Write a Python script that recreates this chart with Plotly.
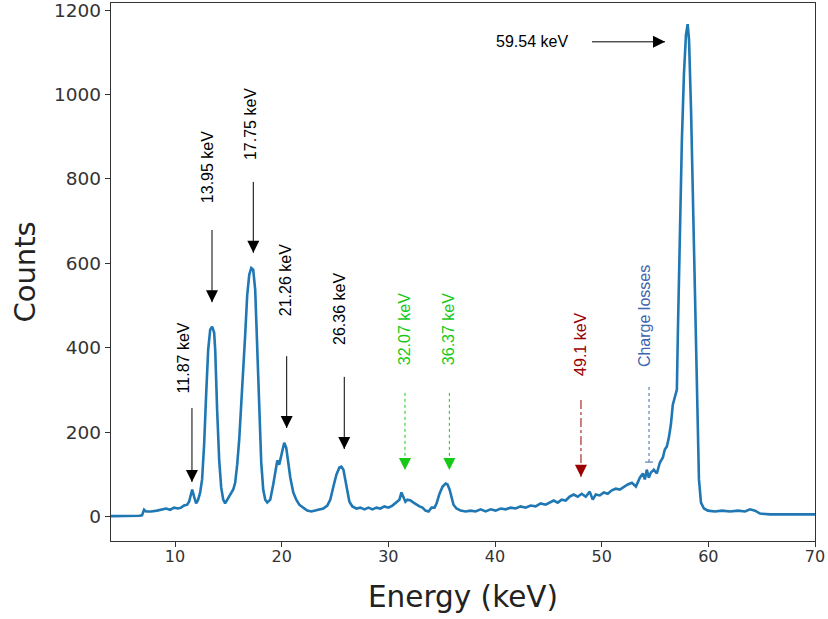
import plotly.graph_objects as go

# ---- spectrum data ----
energy_kev = [
    4.00, 5.22, 6.63, 6.91, 7.10, 7.29, 7.76, 8.32, 8.79, 9.16, 9.54, 9.92, 10.29, 10.57,
    10.85, 11.14, 11.32, 11.51, 11.61, 11.79, 11.98, 12.17, 12.36, 12.54, 12.73, 12.92,
    13.11, 13.30, 13.48, 13.67, 13.77, 13.95, 14.14, 14.33, 14.52, 14.70, 14.89, 15.17,
    15.46, 15.64, 15.83, 16.02, 16.21, 16.39, 16.58, 16.77, 16.96, 17.15, 17.33, 17.52,
    17.71, 17.90, 18.08, 18.27, 18.46, 18.65, 18.93, 19.21, 19.40, 19.59, 19.77, 19.96,
    20.24, 20.43, 20.62, 20.81, 21.09, 21.37, 21.65, 22.03, 22.40, 22.78, 23.15, 23.53,
    23.91, 24.28, 24.56, 24.85, 25.13, 25.41, 25.60, 25.79, 25.97, 26.16, 26.35, 26.63,
    27.00, 27.38, 27.76, 28.13, 28.51, 28.88, 29.26, 29.63, 30.01, 30.38, 30.76, 31.04,
    31.23, 31.42, 31.60, 31.79, 32.08, 32.36, 32.64, 32.92, 33.20, 33.48, 33.77, 34.05,
    34.33, 34.52, 34.80, 35.09, 35.37, 35.55, 35.74, 35.92, 36.11, 36.39, 36.77, 37.24,
    37.71, 38.18, 38.65, 39.12, 39.59, 40.06, 40.53, 41.00, 41.46, 41.93, 42.40, 42.87,
    43.34, 43.81, 44.28, 44.75, 45.13, 45.50, 45.88, 46.25, 46.63, 47.00, 47.38, 47.75,
    48.13, 48.51, 48.88, 49.16, 49.45, 49.82, 50.20, 50.57, 50.95, 51.32, 51.70, 52.08,
    52.45, 52.83, 53.21, 53.58, 53.86, 54.05, 54.23, 54.42, 54.61, 54.89, 55.17, 55.46,
    55.74, 55.92, 56.11, 56.30, 56.49, 56.67, 56.86, 57.05, 57.15, 57.33, 57.52, 57.71,
    57.90, 58.06, 58.19, 58.38, 58.56, 58.75, 58.94, 59.12, 59.31, 59.59, 59.96, 60.62,
    61.28, 62.03, 62.78, 63.44, 63.91, 64.38, 64.85, 65.79, 66.73, 67.67, 68.60, 70.00,
]
counts = [
    1, 1, 2, 3, 16, 12, 12, 14, 16, 19, 16, 21, 19, 21,
    26, 28, 35, 57, 64, 47, 31, 40, 57, 88, 170, 289,
    395, 443, 450, 436, 395, 253, 135, 69, 40, 31, 40, 54,
    64, 80, 123, 182, 265, 324, 431, 525, 573, 589, 585, 537,
    407, 253, 130, 64, 40, 33, 40, 76, 111, 133, 123, 147,
    175, 163, 130, 92, 57, 40, 28, 21, 14, 12, 14, 17,
    19, 26, 40, 71, 99, 116, 118, 111, 88, 57, 35, 24,
    19, 21, 17, 21, 17, 21, 19, 24, 21, 26, 33, 40,
    57, 47, 35, 40, 38, 33, 28, 24, 21, 14, 12, 21,
    21, 31, 54, 71, 78, 76, 64, 45, 28, 19, 14, 12,
    14, 12, 17, 12, 17, 14, 19, 17, 21, 19, 24, 21,
    26, 24, 31, 28, 33, 38, 33, 40, 38, 47, 52, 47,
    54, 47, 59, 40, 52, 50, 57, 54, 62, 66, 64, 71,
    76, 80, 71, 92, 102, 88, 111, 92, 104, 111, 102, 128,
    140, 159, 166, 187, 218, 265, 282, 301, 443, 679, 892, 1046,
    1141, 1167, 1129, 963, 750, 490, 230, 88, 33, 19, 14, 12,
    14, 12, 14, 12, 17, 14, 7, 5, 5, 5, 5, 5,
]

# ---- peak annotations ----
labels = ["11.87 keV", "13.95 keV", "17.75 keV", "21.26 keV", "26.36 keV",
          "32.07 keV", "36.37 keV", "49.1 keV", "Charge losses"]
label_x = [10.80, 13.00, 17.03, 20.31, 25.47, 31.47, 35.59, 48.06, 53.97]
label_y = [376, 828, 930, 560, 492, 444, 444, 409, 475]
arrow_x = [11.59, 13.47, 17.34, 20.47, 25.87, 31.56, 35.72, 48.06, 54.44]
arrow_tail = [257, 679, 793, 380, 331, 293, 293, 276, 307]
arrow_tip = [82, 508, 625, 210, 160, 110, 110, 94, 129]
label_colors = ["black"] * 5 + ["#16c916", "#16c916", "#9a0000", "#3d66b0"]
arrow_dash = ["solid"] * 5 + ["dot", "dot", "dashdot", "dot"]

main_label = "59.54 keV"
main_label_pos = (43.51, 1125)
main_arrow_tail = (49.09, 1125)
main_arrow_tip = (55.94, 1125)

fig = go.Figure()
fig.add_trace(go.Scatter(x=energy_kev, y=counts, mode="lines",
                         line=dict(color="#1f77b4", width=2.6),
                         showlegend=False, hoverinfo="skip"))

ann_font = "Liberation Sans, Arial, sans-serif"
for i, lab in enumerate(labels):
    col = label_colors[i]
    fig.add_annotation(x=label_x[i], y=label_y[i], xref="x", yref="y", text=lab,
                       showarrow=False, textangle=-90,
                       font=dict(family=ann_font, size=16, color=col))
    fig.add_shape(type="line", xref="x", yref="y",
                  x0=arrow_x[i], x1=arrow_x[i], y0=arrow_tail[i], y1=arrow_tip[i],
                  line=dict(color=col, width=1, dash=arrow_dash[i]))
    if lab == "Charge losses":
        fig.add_shape(type="line", xref="x", yref="y",
                      x0=arrow_x[i] - 0.38, x1=arrow_x[i] + 0.38,
                      y0=arrow_tip[i], y1=arrow_tip[i],
                      line=dict(color=col, width=1))
    else:
        fig.add_annotation(x=arrow_x[i], y=arrow_tip[i], xref="x", yref="y",
                           ax=0, ay=-10, text="", showarrow=True,
                           arrowhead=2, arrowsize=2.4, arrowwidth=1,
                           arrowcolor=col)

fig.add_annotation(x=main_label_pos[0], y=main_label_pos[1], xref="x", yref="y",
                   text=main_label, showarrow=False,
                   font=dict(family=ann_font, size=16, color="black"))
fig.add_shape(type="line", xref="x", yref="y",
              x0=main_arrow_tail[0], x1=main_arrow_tip[0],
              y0=main_arrow_tail[1], y1=main_arrow_tip[1],
              line=dict(color="black", width=1))
fig.add_annotation(x=main_arrow_tip[0], y=main_arrow_tip[1], xref="x", yref="y",
                   ax=-10, ay=0, text="", showarrow=True,
                   arrowhead=2, arrowsize=2.4, arrowwidth=1, arrowcolor="black")

axis_font = "DejaVu Sans, sans-serif"
fig.update_layout(
    width=828, height=619,
    margin=dict(l=111, r=13, t=3, b=78, autoexpand=False),
    paper_bgcolor="white", plot_bgcolor="white",
    font=dict(family=axis_font, color="#222222"),
    xaxis=dict(range=[4, 70], tickvals=[10, 20, 30, 40, 50, 60, 70],
               ticks="outside", ticklen=5, tickwidth=1, tickcolor="#333333",
               showline=True, linecolor="#333333", linewidth=1.3, mirror=True,
               showgrid=False, zeroline=False, automargin=False,
               ticklabeloverflow="allow", ticklabelstandoff=-4,
               tickfont=dict(size=16, color="#333333"),
               title=dict(text="Energy (keV)", font=dict(size=29.5, color="#222222"),
                          standoff=21)),
    yaxis=dict(range=[-58, 1217], tickvals=[0, 200, 400, 600, 800, 1000, 1200],
               ticks="outside", ticklen=5, tickwidth=1, tickcolor="#333333",
               showline=True, linecolor="#333333", linewidth=1.3, mirror=True,
               showgrid=False, zeroline=False, automargin=False,
               ticklabeloverflow="allow",
               tickfont=dict(size=18.5, color="#333333"),
               title=dict(text="Counts", font=dict(size=29, color="#222222"),
                          standoff=9)),
)

fig.write_html("out.html", config={"displayModeBar": False},
               post_script="document.body.style.margin='0';"
                           "document.body.style.overflow='hidden';")
